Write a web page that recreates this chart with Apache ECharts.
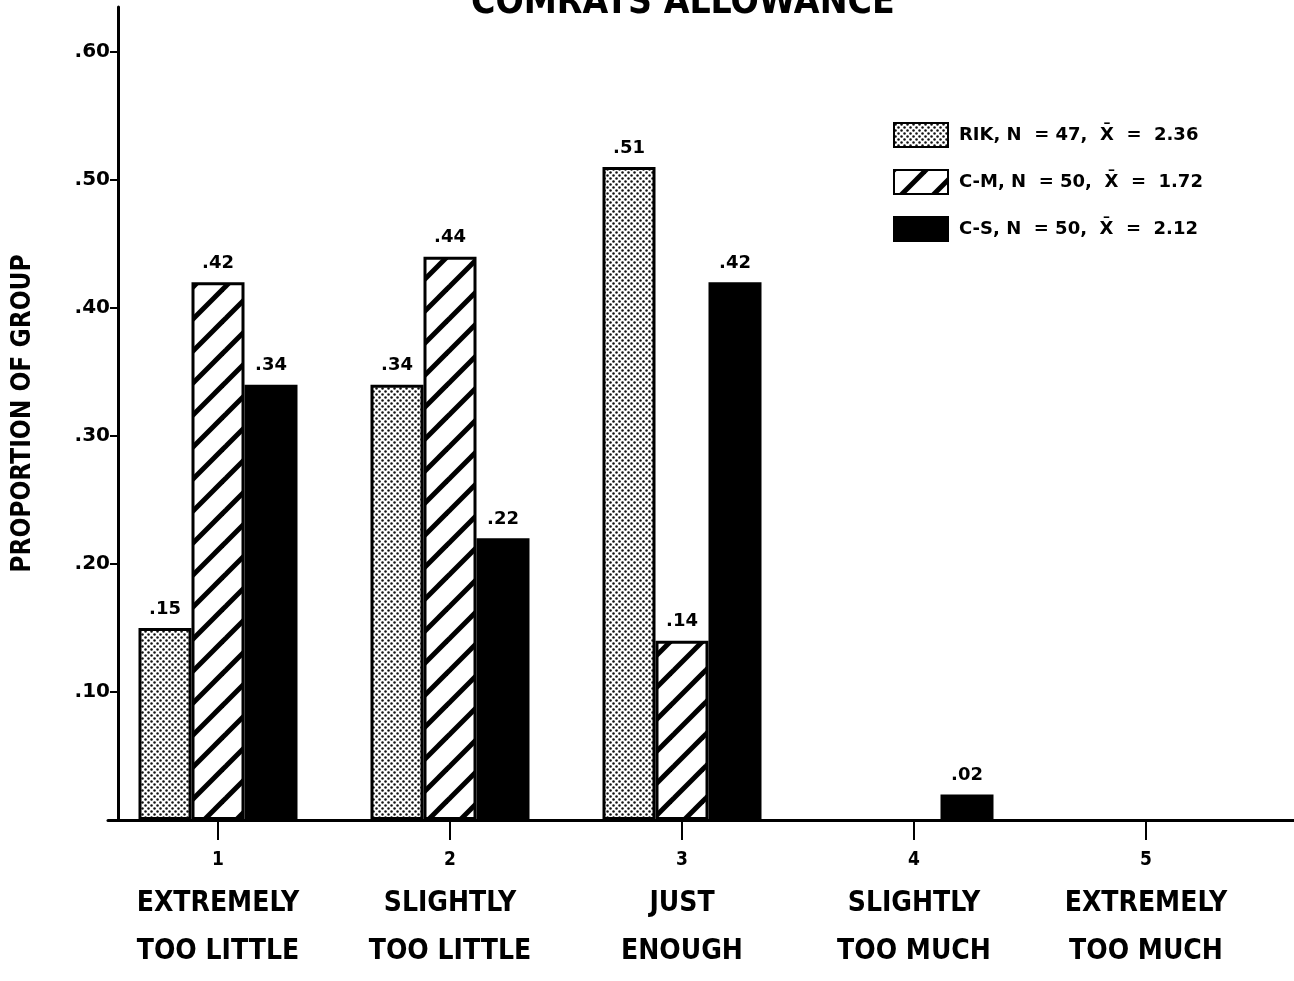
<!DOCTYPE html>
<html>
<head>
<meta charset="utf-8">
<script src="https://cdn.jsdelivr.net/npm/echarts@6/dist/echarts.min.js"></script>
<style>html,body{margin:0;padding:0;background:#fff}#c{width:1294px;height:981px}</style>
</head>
<body>
<div id="c"></div>
<script>
const categories = ['1', '2', '3', '4', '5'];
const categoryNames = [['EXTREMELY', 'TOO LITTLE'], ['SLIGHTLY', 'TOO LITTLE'], ['JUST', 'ENOUGH'], ['SLIGHTLY', 'TOO MUCH'], ['EXTREMELY', 'TOO MUCH']];
const seriesNames = ['RIK, N  = 47,  X\u0304  =  2.36', 'C-M, N  = 50,  X\u0304  =  1.72', 'C-S, N  = 50,  X\u0304  =  2.12'];
const rik = [0.15, 0.34, 0.51, 0, 0];
const cm = [0.42, 0.44, 0.14, 0, 0];
const cs = [0.34, 0.22, 0.42, 0.02, 0];
const yTicks = [0.1, 0.2, 0.3, 0.4, 0.5, 0.6];

function dotPattern() {
  const c = document.createElement('canvas');
  c.width = 6; c.height = 6;
  const g = c.getContext('2d');
  g.fillStyle = '#fff'; g.fillRect(0, 0, 6, 6);
  g.fillStyle = '#111';
  [[1.5, 1.5], [4.5, 4.5]].forEach(p => { g.beginPath(); g.arc(p[0], p[1], 1.25, 0, Math.PI * 2); g.fill(); });
  return { image: c, repeat: 'repeat' };
}
function stripePattern() {
  const s = 32;
  const c = document.createElement('canvas');
  c.width = s; c.height = s;
  const g = c.getContext('2d');
  g.fillStyle = '#fff'; g.fillRect(0, 0, s, s);
  g.strokeStyle = '#000'; g.lineWidth = 5; g.lineCap = 'butt';
  for (let k = -1; k <= 1; k++) {
    g.beginPath(); g.moveTo(k * s - 8, s + 8); g.lineTo(k * s + s + 8, -8); g.stroke();
  }
  return { image: c, repeat: 'repeat' };
}

const condensed = "'DejaVu Sans Condensed', 'DejaVu Sans', sans-serif";
const wide = "'DejaVu Sans', sans-serif";
const toData = arr => arr.map(v => v > 0 ? v : '-');
const labelFmt = p => (typeof p.value === 'number' && p.value > 0) ? p.value.toFixed(2).replace(/^0/, '') : '';
const valueLabel = { show: true, position: 'top', distance: 10, formatter: labelFmt, color: '#000', fontFamily: wide, fontWeight: 'bold', fontSize: 18 };

const chart = echarts.init(document.getElementById('c'), null, { renderer: 'canvas' });
chart.setOption({
  animation: false,
  backgroundColor: '#fff',
  title: {
    text: 'COMRATS ALLOWANCE', left: 466, top: -20,
    textStyle: { fontFamily: condensed, fontWeight: 'bold', fontSize: 37, color: '#000' }
  },
  legend: {
    orient: 'vertical', left: 888, top: 117, itemWidth: 54, itemHeight: 24, itemGap: 21, icon: 'rect',
    textStyle: { fontFamily: wide, fontWeight: 'bold', fontSize: 18, color: '#000', padding: [0, 0, 0, 6] },
    data: seriesNames
  },
  grid: [
    { left: 102, width: 1160, top: 7, bottom: 161 },
    { left: 108, right: 0, top: 7, bottom: 161 }
  ],
  xAxis: [
    {
      type: 'category', gridIndex: 0, data: categories,
      axisLine: { show: false },
      axisTick: { show: true, alignWithLabel: true, length: 20, lineStyle: { color: '#000', width: 2 } },
      axisLabel: {
        margin: 20, interval: 0,
        formatter: (v, i) => '{n|' + v + '}\n{t|' + categoryNames[i][0] + '}\n{t|' + categoryNames[i][1] + '}',
        rich: {
          n: { fontFamily: condensed, fontWeight: 'bold', fontSize: 19, lineHeight: 40, color: '#000' },
          t: { fontFamily: condensed, fontWeight: 'bold', fontSize: 28, lineHeight: 48, color: '#000' }
        }
      }
    },
    {
      type: 'value', gridIndex: 1, min: 0, max: 1,
      axisLine: { show: true, lineStyle: { color: '#000', width: 3 } },
      axisTick: { show: false }, axisLabel: { show: false }, splitLine: { show: false }
    }
  ],
  yAxis: [
    {
      type: 'value', gridIndex: 0, min: 0, max: 0.635, offset: -16,
      name: 'PROPORTION OF GROUP', nameLocation: 'middle', nameGap: 82, nameRotate: 90,
      nameTextStyle: { fontFamily: condensed, fontWeight: 'bold', fontSize: 26, color: '#000' },
      axisLine: { show: true, lineStyle: { color: '#000', width: 3 } },
      axisTick: { show: true, length: 8, customValues: yTicks, lineStyle: { color: '#000', width: 2 } },
      axisLabel: {
        customValues: yTicks, margin: 8, color: '#000',
        fontFamily: wide, fontWeight: 'bold', fontSize: 20,
        formatter: v => v.toFixed(2).replace(/^0/, '')
      },
      splitLine: { show: false }
    },
    { type: 'value', gridIndex: 1, min: 0, max: 1, show: false }
  ],
  series: [
    { name: seriesNames[0], type: 'bar', xAxisIndex: 0, yAxisIndex: 0, data: toData(rik), barWidth: 53, barGap: '0%',
      itemStyle: { color: dotPattern(), borderColor: '#000', borderWidth: 3 }, label: valueLabel },
    { name: seriesNames[1], type: 'bar', xAxisIndex: 0, yAxisIndex: 0, data: toData(cm), barWidth: 53, barGap: '0%',
      itemStyle: { color: stripePattern(), borderColor: '#000', borderWidth: 3 }, label: valueLabel },
    { name: seriesNames[2], type: 'bar', xAxisIndex: 0, yAxisIndex: 0, data: toData(cs), barWidth: 53, barGap: '0%',
      itemStyle: { color: '#000', borderColor: '#000', borderWidth: 3 }, label: valueLabel }
  ]
});
</script>
</body>
</html>
